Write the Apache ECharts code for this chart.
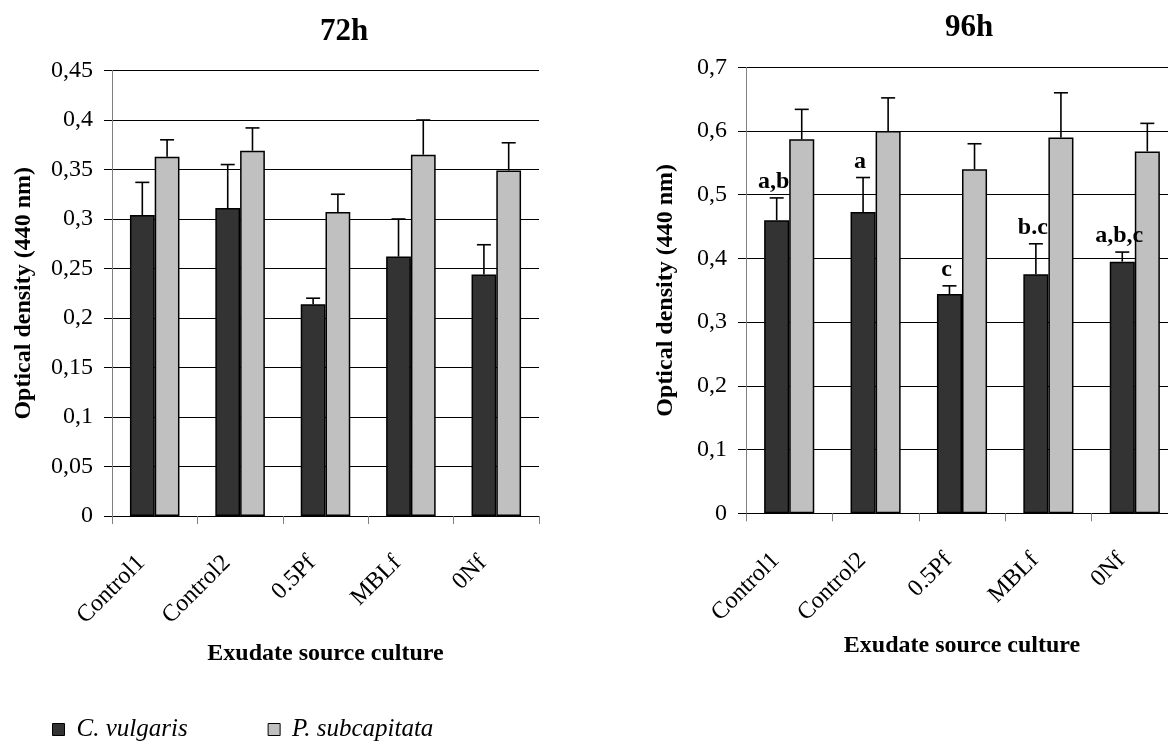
<!DOCTYPE html>
<html>
<head>
<meta charset="utf-8">
<script src="https://cdn.jsdelivr.net/npm/echarts@6/dist/echarts.min.js"></script>
<style>
html,body{margin:0;padding:0;background:#fff;}
#chart{width:1168px;height:742px;}
</style>
</head>
<body>
<div id="chart"></div>
<script>
// ---- data ----
const categories = ['Control1', 'Control2', '0.5Pf', 'MBLf', '0Nf'];
const seriesNames = ['C. vulgaris', 'P. subcapitata'];
// 72h
const cv72 = [0.304, 0.311, 0.214, 0.262, 0.244];
const cv72Sd = [0.033, 0.044, 0.006, 0.038, 0.030];
const ps72 = [0.363, 0.369, 0.307, 0.365, 0.349];
const ps72Sd = [0.017, 0.023, 0.018, 0.035, 0.028];
// 96h
const cv96 = [0.460, 0.473, 0.344, 0.375, 0.395];
const cv96Sd = [0.035, 0.054, 0.013, 0.048, 0.015];
const ps96 = [0.587, 0.600, 0.540, 0.590, 0.568];
const ps96Sd = [0.047, 0.052, 0.040, 0.070, 0.044];
const letters96 = ['a,b', 'a', 'c', 'b.c', 'a,b,c'];
// tick labels
const yTicks72 = ['0', '0,05', '0,1', '0,15', '0,2', '0,25', '0,3', '0,35', '0,4', '0,45'];
const yTicks96 = ['0', '0,1', '0,2', '0,3', '0,4', '0,5', '0,6', '0,7'];
const titles = ['72h', '96h'];
const xAxisTitle = 'Exudate source culture';
const yAxisTitle = 'Optical density (440 nm)';

// ---- styling ----
const FONT = '"Liberation Serif", "Times New Roman", serif';
const DARK = '#333333';
const LIGHT = '#c0c0c0';
const BAR_FRAC = 0.29;

function errData(means, sds) {
  return means.map((m, i) => [i, m, m + sds[i]]);
}

function makeErrRender(side, letters) {
  return function (params, api) {
    const idx = api.value(0);
    const base = api.coord([idx, api.value(1)]);
    const top = api.coord([idx, api.value(2)]);
    const band = api.size([1, 0])[0];
    const x = base[0] + side * band * BAR_FRAC / 2;
    const cap = 7;
    const children = [
      { type: 'line', shape: { x1: x, y1: base[1], x2: x, y2: top[1] }, style: { stroke: '#000', lineWidth: 1.6 } },
      { type: 'line', shape: { x1: x - cap, y1: top[1], x2: x + cap, y2: top[1] }, style: { stroke: '#000', lineWidth: 1.6 } }
    ];
    if (letters) {
      children.push({
        type: 'text',
        style: {
          text: letters[params.dataIndex],
          x: x - 3, y: top[1] - 4,
          textAlign: 'center', textVerticalAlign: 'bottom',
          font: 'bold 24px ' + FONT, fill: '#000'
        }
      });
    }
    return { type: 'group', children: children };
  };
}

function yAxis(gridIndex, max, interval, ticks, gap) {
  return {
    type: 'value', gridIndex: gridIndex, min: 0, max: max, interval: interval,
    name: yAxisTitle, nameLocation: 'middle', nameGap: gap,
    nameTextStyle: { fontFamily: FONT, fontWeight: 'bold', fontSize: 24, color: '#000' },
    axisLine: { show: true, lineStyle: { color: '#808080', width: 1 } },
    axisTick: { show: true, length: 8, lineStyle: { color: '#000' } },
    axisLabel: {
      margin: 19, fontFamily: FONT, fontSize: 24, color: '#000',
      formatter: function (v) { return ticks[Math.round(v / interval)]; }
    },
    splitLine: { show: true, lineStyle: { color: '#000', width: 1 } }
  };
}

function xAxis(gridIndex, gap) {
  return {
    type: 'category', gridIndex: gridIndex, data: categories,
    name: xAxisTitle, nameLocation: 'middle', nameGap: gap,
    nameTextStyle: { fontFamily: FONT, fontWeight: 'bold', fontSize: 24, color: '#000' },
    axisLine: { show: true, lineStyle: { color: '#000', width: 1 } },
    axisTick: { show: true, length: 8, alignWithLabel: false, lineStyle: { color: '#808080' } },
    axisLabel: { rotate: 45, margin: 30, padding: [0, 19, 0, 0], fontFamily: FONT, fontSize: 24, color: '#000', interval: 0 }
  };
}

function bar(name, data, xi, color) {
  return {
    type: 'bar', name: name, xAxisIndex: xi, yAxisIndex: xi, data: data,
    barWidth: (BAR_FRAC * 100) + '%', barGap: '0%',
    itemStyle: { color: color, borderColor: '#000', borderWidth: 1.5 },
    z: 2
  };
}

function errSeries(means, sds, xi, side, letters) {
  return {
    type: 'custom', xAxisIndex: xi, yAxisIndex: xi,
    data: errData(means, sds),
    encode: { x: 0, y: [1, 2] },
    renderItem: makeErrRender(side, letters),
    z: 5, silent: true
  };
}

const chart = echarts.init(document.getElementById('chart'), null, { renderer: 'canvas' });
chart.setOption({
  animation: false,
  backgroundColor: '#fff',
  title: [
    { text: titles[0], left: 339, top: 11, textAlign: 'center',
      textStyle: { fontFamily: FONT, fontWeight: 'bold', fontSize: 31, color: '#000' } },
    { text: titles[1], left: 964, top: 7, textAlign: 'center',
      textStyle: { fontFamily: FONT, fontWeight: 'bold', fontSize: 31, color: '#000' } }
  ],
  legend: {
    data: seriesNames, left: 47, top: 712, icon: 'rect',
    itemWidth: 12, itemHeight: 12, itemGap: 80,
    itemStyle: { borderColor: '#000', borderWidth: 1 },
    textStyle: { fontFamily: FONT, fontStyle: 'italic', fontSize: 25, color: '#000', padding: [0, 0, 0, 7] }
  },
  grid: [
    { left: 112, top: 70.5, width: 427, height: 445.5, containLabel: false, outerBoundsMode: 'none' },
    { left: 746, top: 67.3, width: 432, height: 446, containLabel: false, outerBoundsMode: 'none' }
  ],
  xAxis: [xAxis(0, 126), xAxis(1, 120)],
  yAxis: [yAxis(0, 0.45, 0.05, yTicks72, 76), yAxis(1, 0.7, 0.1, yTicks96, 68)],
  series: [
    bar(seriesNames[0], cv72, 0, DARK),
    bar(seriesNames[1], ps72, 0, LIGHT),
    bar(seriesNames[0], cv96, 1, DARK),
    bar(seriesNames[1], ps96, 1, LIGHT),
    errSeries(cv72, cv72Sd, 0, -1, null),
    errSeries(ps72, ps72Sd, 0, 1, null),
    errSeries(cv96, cv96Sd, 1, -1, letters96),
    errSeries(ps96, ps96Sd, 1, 1, null)
  ]
});
</script>
</body>
</html>
